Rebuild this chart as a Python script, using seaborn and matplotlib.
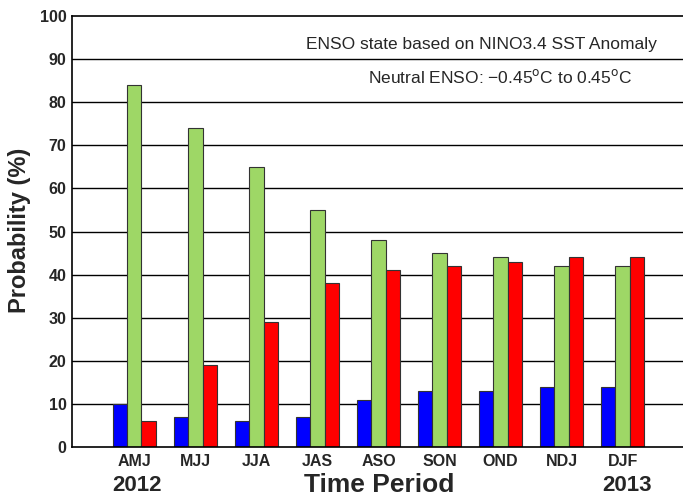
import matplotlib
matplotlib.use("Agg")
import matplotlib.pyplot as plt
import seaborn as sns
import pandas as pd

periods = ["AMJ", "MJJ", "JJA", "JAS", "ASO", "SON", "OND", "NDJ", "DJF"]
la_nina = [10, 7, 6, 7, 11, 13, 13, 14, 14]
neutral = [84, 74, 65, 55, 48, 45, 44, 42, 42]
el_nino = [6, 19, 29, 38, 41, 42, 43, 44, 44]
states = ["La Niña", "Neutral", "El Niño"]
colors = ["#0000FF", "#9ED766", "#FF0000"]

df = pd.DataFrame({
    "period": periods * 3,
    "state": [states[0]] * 9 + [states[1]] * 9 + [states[2]] * 9,
    "prob": la_nina + neutral + el_nino,
})

sns.set_style("white")
plt.rcParams["font.family"] = ["Liberation Sans", "DejaVu Sans"]

fig = plt.figure(figsize=(6.83, 4.96), dpi=100)
ax = fig.add_axes([0.1054, 0.0988, 0.8946 + 0.01, 0.8689])

for v in range(10, 100, 10):
    ax.axhline(v, color="black", lw=1.0, zorder=0)

sns.barplot(data=df, x="period", y="prob", hue="state", hue_order=states,
            palette=colors, width=0.71, dodge=True, legend=False,
            edgecolor="#333333", linewidth=0.8, saturation=1, ax=ax, zorder=2)

ax.set_ylim(0, 100)
ax.set_xlim(-1.02, 9.1)
ax.set_yticks(range(0, 101, 10))
ax.tick_params(axis="both", length=0, labelsize=11.5)
for lab in ax.get_xticklabels() + ax.get_yticklabels():
    lab.set_fontweight("bold")
ax.tick_params(axis="x", pad=5)
ax.tick_params(axis="y", pad=4)
ax.set_xlabel("")
ax.set_ylabel("")
for s in ["left", "bottom", "top"]:
    ax.spines[s].set_visible(True)
    ax.spines[s].set_color("black")
    ax.spines[s].set_linewidth(1.2)
ax.spines["right"].set_visible(False)

fig.text(20 / 683, 1 - 230 / 496, "Probability (%)", fontsize=17, fontweight="bold",
         rotation=90, ha="center", va="center")

fig.text(481 / 683, 1 - 44 / 496, "ENSO state based on NINO3.4 SST Anomaly",
         fontsize=12.5, ha="center", va="center")
fig.text(500 / 683, 1 - 77 / 496, "Neutral ENSO: \u22120.45$^{\\mathrm{o}}$C to 0.45$^{\\mathrm{o}}$C",
         fontsize=12.5, ha="center", va="center")

fig.text(137 / 683, 1 - 491 / 496, "2012", fontsize=16, fontweight="bold", ha="center", va="baseline")
fig.text(379 / 683, 1 - 492 / 496, "Time Period", fontsize=19, fontweight="bold", ha="center", va="baseline")
fig.text(627 / 683, 1 - 491 / 496, "2013", fontsize=16, fontweight="bold", ha="center", va="baseline")

fig.savefig("out.png", dpi=100)
